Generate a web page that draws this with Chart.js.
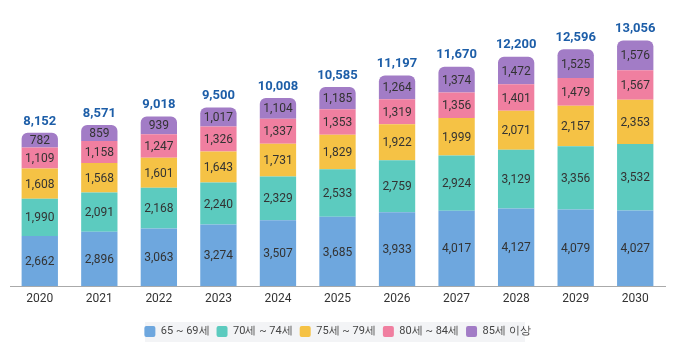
<!DOCTYPE html>
<html><head><meta charset="utf-8">
<script src="https://cdn.jsdelivr.net/npm/chart.js@4.4.1/dist/chart.umd.min.js"></script>
<style>html,body{margin:0;padding:0;background:#fff}#wrap{width:680px;height:355px}</style>
</head><body><div id="wrap"><canvas id="c" width="680" height="355"></canvas></div>
<script>
const years = ['2020','2021','2022','2023','2024','2025','2026','2027','2028','2029','2030'];
const seriesNames = ['65 ~ 69세','70세 ~ 74세','75세 ~ 79세','80세 ~ 84세','85세 이상'];
const age65 = [2662,2896,3063,3274,3507,3685,3933,4017,4127,4079,4027];
const age70 = [1990,2091,2168,2240,2329,2533,2759,2924,3129,3356,3532];
const age75 = [1608,1568,1601,1643,1731,1829,1922,1999,2071,2157,2353];
const age80 = [1109,1158,1247,1326,1337,1353,1319,1356,1401,1479,1567];
const age85 = [782,859,939,1017,1104,1185,1264,1374,1472,1525,1576];
const totals = [8152,8571,9018,9500,10008,10585,11197,11670,12200,12596,13056];
const colors = ['#6ea7de','#5ccbbf','#f5c245','#f07fa0','#a27cc6'];
const fmt = v => v.toLocaleString('en-US');

const seriesData = [age65,age70,age75,age80,age85];
const datasets = seriesData.map((d,i)=>({
  label: seriesNames[i], data: d, backgroundColor: colors[i],
  borderWidth: 0, borderRadius: 6, borderSkipped: 'start',
  categoryPercentage: 1, barPercentage: 0.61
}));

const labelPlugin = {
  id:'labels',
  beforeDraw(chart){
    const ctx = chart.ctx;
    ctx.save(); ctx.fillStyle='#f3f4f6';
    ctx.fillRect(145, 322, 380, 20); ctx.restore();
  },
  afterDatasetsDraw(chart){
    const ctx = chart.ctx; ctx.save();
    ctx.textAlign='center'; ctx.textBaseline='middle';
    ctx.font = '12px Roboto'; ctx.fillStyle='#333';
    chart.data.datasets.forEach((ds,di)=>{
      chart.getDatasetMeta(di).data.forEach((bar,i)=>{
        const top = bar.y, bot = bar.base;
        ctx.fillText(fmt(ds.data[i]), bar.x, (top+bot)/2+1);
      });
    });
    const last = chart.getDatasetMeta(4).data;
    ctx.font = 'bold 13px Roboto'; ctx.fillStyle='#1d5ea8';
    ctx.textBaseline='bottom';
    last.forEach((bar,i)=>{ ctx.fillText(fmt(totals[i]), bar.x, bar.y-5); });
    ctx.restore();
  }
};

new Chart(document.getElementById('c'), {
  type:'bar',
  data:{ labels: years, datasets },
  options:{
    responsive:false, animation:false,
    layout:{ padding:{ top:4, left:10, right:15, bottom:8 } },
    scales:{
      x:{ stacked:true, grid:{ display:false, drawTicks:false },
          border:{ display:true, color:'#aaaaaa', width:1 },
          ticks:{ color:'#333', font:{ family:'Roboto', size:12 }, padding:6 } },
      y:{ stacked:true, display:false, min:0, max:15000 }
    },
    plugins:{
      legend:{ position:'bottom',
        title:{ display:true, text:'', font:{ size:2 }, padding:{ top:0, bottom:4 } },
        labels:{ boxWidth:11, boxHeight:11, useBorderRadius:true, borderRadius:2,
        color:'#444', font:{ family:'Roboto', size:11 }, padding:7 } },
      tooltip:{ enabled:false }
    }
  },
  plugins:[labelPlugin]
});
</script></body></html>
